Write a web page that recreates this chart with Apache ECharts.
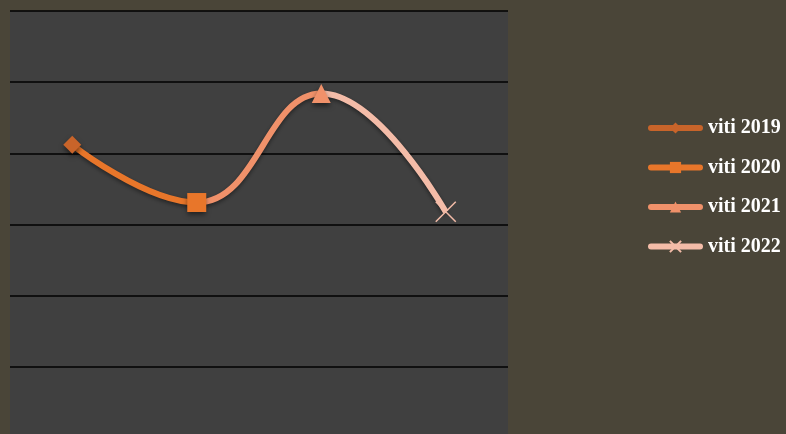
<!DOCTYPE html>
<html><head><meta charset="utf-8">
<script src="https://cdn.jsdelivr.net/npm/echarts@6/dist/echarts.min.js"></script>
<style>html,body{margin:0;padding:0;background:#4a4538;overflow:hidden;}#c{width:786px;height:440px;}</style>
</head><body><div id="c"></div>
<script>
const categories = ['viti 2019', 'viti 2020', 'viti 2021', 'viti 2022'];
const values = [4.12, 3.31, 4.84, 3.18];
const colors = ['#c8642a', '#e8762a', '#f0916a', '#f4bca8'];
const symbols = ['diamond', 'rect', 'triangle', 'path://M0,0L10,10M10,0L0,10'];
const symbolSizes = [18, 19, 19, 20];
const yTicks = [0, 1, 2, 3, 4, 5, 6];

const chart = echarts.init(document.getElementById('c'));
const pointSeries = categories.map((name, i) => ({
  name: name,
  type: 'line',
  data: values.map((v, j) => j === i ? v : null),
  symbol: symbols[i],
  symbolSize: symbolSizes[i],
  showSymbol: true,
  z: 5,
  lineStyle: { color: colors[i], width: 6, cap: 'round' },
  itemStyle: i === 3
    ? { color: 'none', borderColor: colors[i], borderWidth: 1.5 }
    : { color: colors[i], shadowColor: 'rgba(0,0,0,0.5)', shadowBlur: 5, shadowOffsetY: 3 }
}));

chart.setOption({
  backgroundColor: '#4a4538',
  animation: false,
  grid: { left: 10, width: 498, top: 11, bottom: 1.8, show: true, backgroundColor: '#404040', borderWidth: 0 },
  xAxis: { type: 'category', data: categories, boundaryGap: true,
    axisLine: { show: false }, axisTick: { show: false }, axisLabel: { show: false } },
  yAxis: { type: 'value', min: yTicks[0], max: yTicks[yTicks.length - 1], interval: 1,
    axisLine: { show: false }, axisTick: { show: false }, axisLabel: { show: false },
    splitLine: { lineStyle: { color: '#000', width: 1.5 } } },
  visualMap: {
    show: false, type: 'piecewise', dimension: 0, seriesIndex: 0,
    pieces: [
      { lte: 1, color: colors[1] },
      { gt: 1, lte: 2, color: colors[2] },
      { gt: 2, color: colors[3] }
    ]
  },
  legend: {
    orient: 'vertical', left: 648, top: 118, padding: 0, itemWidth: 49, itemHeight: 14, itemGap: 19.5,
    lineStyle: { width: 6, cap: 'round' },
    itemStyle: { shadowBlur: 0, shadowOffsetY: 0 },
    textStyle: { color: '#fff', fontFamily: 'Liberation Serif', fontWeight: 'bold', fontSize: 20, lineHeight: 20, padding: [0, 0, 0, 3] },
    data: categories
  },
  series: [{
    name: 'main', type: 'line', data: values, smooth: 0.45, showSymbol: false, z: 3,
    lineStyle: { width: 6, shadowColor: 'rgba(0,0,0,0.45)', shadowBlur: 4, shadowOffsetY: 2 }
  }].concat(pointSeries)
});
</script></body></html>
